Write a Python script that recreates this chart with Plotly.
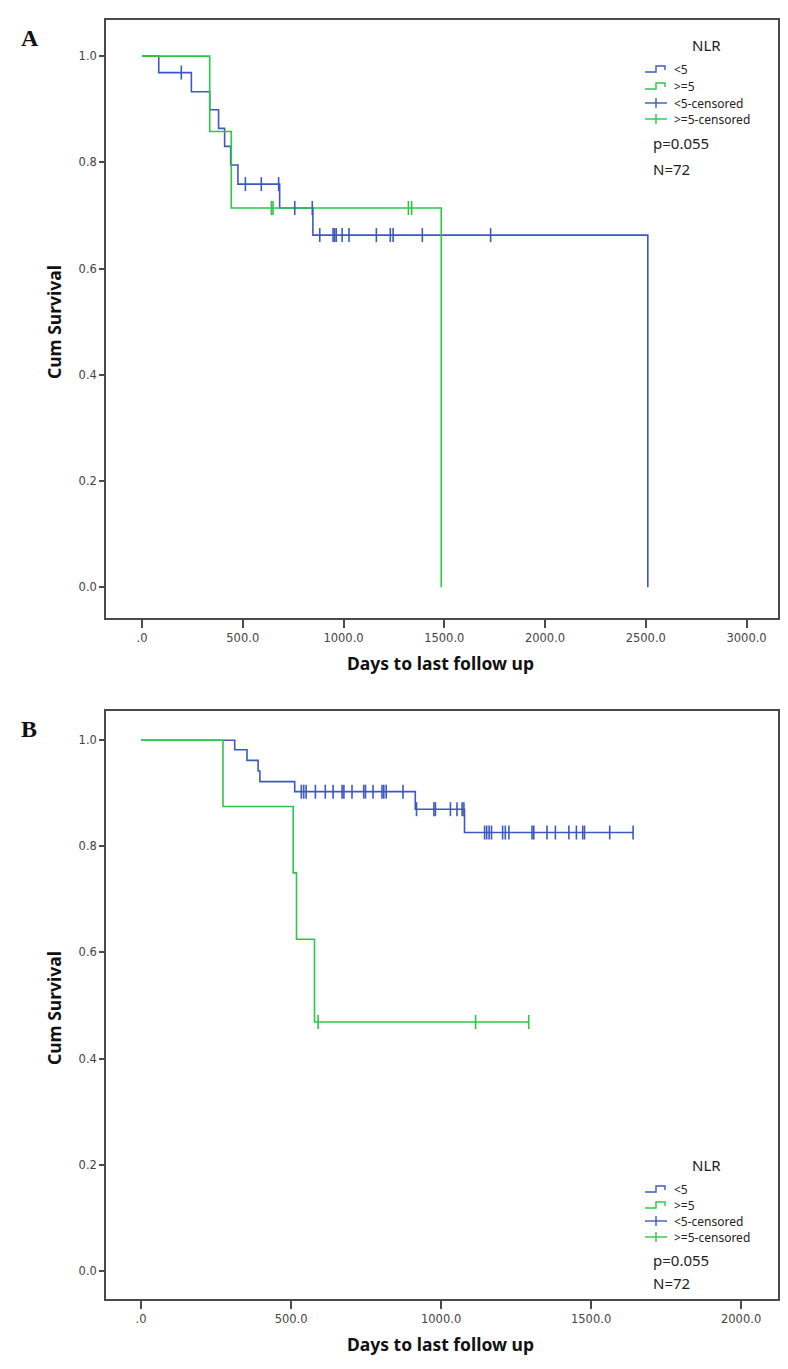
import numpy as np
import plotly.graph_objects as go

# ---------------- data ----------------
# Panel A
a_lo_event_days = [83, 245, 336, 380, 410, 440, 476, 683, 848, 2510]
a_lo_event_surv = [0.969, 0.933, 0.899, 0.864, 0.830, 0.795, 0.759, 0.714, 0.663, 0.0]
a_lo_censored = [195, 513, 592, 678, 758, 845, 882, 948, 956, 964, 993, 1027,
                 1163, 1232, 1246, 1391, 1730]
a_hi_event_days = [336, 443, 1485]
a_hi_event_surv = [0.858, 0.714, 0.0]
a_hi_censored = [642, 650, 1322, 1338]

# Panel B
b_lo_event_days = [312, 353, 390, 396, 512, 914, 1078]
b_lo_event_surv = [0.982, 0.962, 0.942, 0.922, 0.903, 0.870, 0.826]
b_lo_censored = [534, 542, 550, 581, 614, 640, 670, 676, 703, 742, 748, 773, 803,
                 809, 817, 873, 918, 976, 981, 1031, 1053, 1070, 1076, 1145, 1152,
                 1160, 1168, 1205, 1214, 1226, 1303, 1309, 1353, 1381, 1426, 1451,
                 1472, 1478, 1562, 1640]
b_hi_event_days = [273, 507, 518, 578]
b_hi_event_surv = [0.875, 0.75, 0.625, 0.469]
b_hi_censored = [590, 1115, 1292]

a_xticks = [0, 500, 1000, 1500, 2000, 2500, 3000]
a_xticktext = [".0", "500.0", "1000.0", "1500.0", "2000.0", "2500.0", "3000.0"]
b_xticks = [0, 500, 1000, 1500, 2000]
b_xticktext = [".0", "500.0", "1000.0", "1500.0", "2000.0"]
yticks = [0, 0.2, 0.4, 0.6, 0.8, 1.0]
yticktext = ["0.0", "0.2", "0.4", "0.6", "0.8", "1.0"]

group_labels = ["<5", ">=5", "<5-censored", ">=5-censored"]
legend_title = "NLR"
p_text = "p=0.055"
n_text = "N=72"

BLUE = "#3d58c2"
GREEN = "#2cc64a"
AXIS = "#4a4a4a"

W, H = 788, 1369


def px(x):
    return x / W


def py(y):
    return 1 - y / H


def step_xy(days, surv, censored):
    x = [0] + list(days)
    y = [1.0] + list(surv)
    last = max(censored) if censored else 0
    if last > x[-1]:
        x.append(last)
        y.append(y[-1])
    return x, y


def surv_at(days, surv, t):
    idx = np.searchsorted(np.array(days), t, side="right")
    return 1.0 if idx == 0 else surv[idx - 1]


fig = go.Figure()

panels = [
    dict(xa="x", ya="y",
         series=[(a_lo_event_days, a_lo_event_surv, a_lo_censored, BLUE),
                 (a_hi_event_days, a_hi_event_surv, a_hi_censored, GREEN)]),
    dict(xa="x2", ya="y2",
         series=[(b_lo_event_days, b_lo_event_surv, b_lo_censored, BLUE),
                 (b_hi_event_days, b_hi_event_surv, b_hi_censored, GREEN)]),
]

for p in panels:
    for days, surv, cens, col in p["series"]:
        sx, sy = step_xy(days, surv, cens)
        fig.add_trace(go.Scatter(x=sx, y=sy, mode="lines", line_shape="hv",
                                 line=dict(color=col, width=1.6),
                                 xaxis=p["xa"], yaxis=p["ya"], showlegend=False,
                                 hoverinfo="skip"))
    for days, surv, cens, col in p["series"]:
        cy = [surv_at(days, surv, t) for t in cens]
        fig.add_trace(go.Scatter(x=cens, y=cy, mode="markers",
                                 marker=dict(symbol="line-ns-open", size=10, color=col,
                                             line=dict(color=col, width=1.6)),
                                 xaxis=p["xa"], yaxis=p["ya"], showlegend=False,
                                 hoverinfo="skip"))

tickfont = dict(family="DejaVu Sans", size=11.5, color="#444")
common_x = dict(showline=True, linecolor=AXIS, linewidth=1.6, mirror=True,
                ticks="outside", ticklen=8, tickwidth=1.5, tickcolor=AXIS,
                showgrid=False, zeroline=False, tickfont=tickfont)
common_y = dict(showline=True, linecolor=AXIS, linewidth=1.6, mirror=True,
                ticks="outside", ticklen=5, tickwidth=1.5, tickcolor=AXIS,
                showgrid=False, zeroline=False, tickfont=tickfont,
                tickvals=yticks, ticktext=yticktext)

fig.update_layout(
    width=W, height=H, margin=dict(l=0, r=0, t=0, b=0),
    paper_bgcolor="white", plot_bgcolor="white",
    xaxis=dict(domain=[px(98), px(770)], range=[-178.7, 3156], anchor="y",
               tickvals=a_xticks, ticktext=a_xticktext, **common_x),
    yaxis=dict(domain=[py(610), py(12)], range=[-0.058, 1.068], anchor="x",
               **common_y),
    xaxis2=dict(domain=[px(98), px(770)], range=[-117, 2123], anchor="y2",
                tickvals=b_xticks, ticktext=b_xticktext, **common_x),
    yaxis2=dict(domain=[py(1291), py(703)], range=[-0.053, 1.055], anchor="x2",
                **common_y),
)

ann = []
titlefont = dict(family="Noto Sans", size=17.5, color="#111")
# axis titles and panel letters
for top, bottom, letter in [(12, 610, "A"), (703, 1291, "B")]:
    ann.append(dict(x=px(432), y=py(bottom + 45), xref="paper", yref="paper",
                    text="<b>Days to last follow up</b>", showarrow=False,
                    font=titlefont, xanchor="center", yanchor="middle"))
    ann.append(dict(x=px(46), y=py((top + bottom) / 2 + 3), xref="paper", yref="paper",
                    text="<b>Cum Survival</b>", showarrow=False, textangle=-90,
                    font=titlefont, xanchor="center", yanchor="middle"))
    ann.append(dict(x=px(11), y=py(top + 18), xref="paper", yref="paper",
                    text="<b>%s</b>" % letter, showarrow=False,
                    font=dict(family="Liberation Serif", size=24, color="#111"),
                    xanchor="left", yanchor="middle"))

shapes = []
legfont = dict(family="Noto Sans", size=12, color="#222")


def add_legend(y_title, y_rows, y_p, y_n):
    ann.append(dict(x=px(698), y=py(y_title), xref="paper", yref="paper",
                    text=legend_title, showarrow=False,
                    font=dict(family="Noto Sans", size=15, color="#222"),
                    xanchor="center", yanchor="middle"))
    cols = [BLUE, GREEN, BLUE, GREEN]
    for i, (lab, yr, col) in enumerate(zip(group_labels, y_rows, cols)):
        ann.append(dict(x=px(664), y=py(yr), xref="paper", yref="paper",
                        text=lab, showarrow=False, font=legfont,
                        xanchor="left", yanchor="middle"))
        x0 = 637
        if i < 2:
            path = "M %f %f L %f %f L %f %f L %f %f L %f %f" % (
                px(x0), py(yr + 3), px(x0 + 11), py(yr + 3), px(x0 + 11), py(yr - 3),
                px(x0 + 20), py(yr - 3), px(x0 + 20), py(yr + 1))
            shapes.append(dict(type="path", path=path, xref="paper", yref="paper",
                               line=dict(color=col, width=1.4)))
        else:
            shapes.append(dict(type="line", xref="paper", yref="paper",
                               x0=px(x0), x1=px(x0 + 22), y0=py(yr), y1=py(yr),
                               line=dict(color=col, width=1.4)))
            shapes.append(dict(type="line", xref="paper", yref="paper",
                               x0=px(x0 + 11), x1=px(x0 + 11), y0=py(yr - 5),
                               y1=py(yr + 5), line=dict(color=col, width=1.4)))
    ann.append(dict(x=px(643), y=py(y_p), xref="paper", yref="paper", text=p_text,
                    showarrow=False, font=dict(family="Noto Sans", size=15, color="#222"),
                    xanchor="left", yanchor="middle"))
    ann.append(dict(x=px(643), y=py(y_n), xref="paper", yref="paper", text=n_text,
                    showarrow=False, font=dict(family="Noto Sans", size=15, color="#222"),
                    xanchor="left", yanchor="middle"))


add_legend(37, [61, 78, 95, 111], 135, 161)
add_legend(1157, [1181, 1197, 1213, 1229], 1252, 1275)

fig.update_layout(annotations=ann, shapes=shapes)
fig.write_html("out.html")
